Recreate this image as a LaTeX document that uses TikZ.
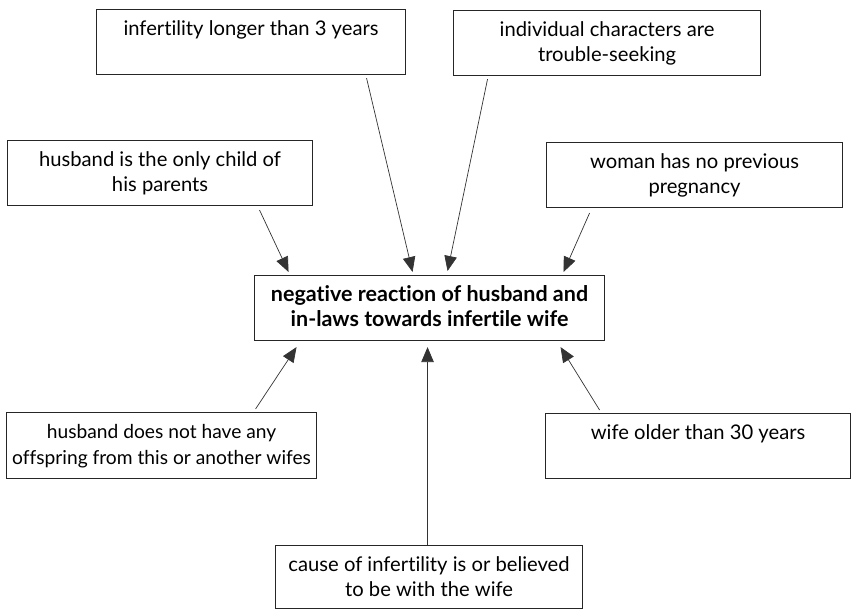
\documentclass[tikz,border=0pt]{standalone}
\usepackage{fontspec}
\setmainfont{Lato}[Ligatures=NoCommon]
\usetikzlibrary{arrows.meta}
\newcommand\bxt[3]{\parbox[c][#2pt][t]{#1pt}{\centering\rule{0pt}{26pt}#3\par}}
\tikzset{
  box/.style={draw=black!85, line width=1.1pt, inner sep=0pt, anchor=north west, font=\fontsize{20.2}{25}\selectfont},
  arr/.style={draw=black!80, line width=0.7pt, -{Triangle[length=15pt,width=12.5pt]}}
}
\begin{document}
\begin{tikzpicture}[x=1pt,y=-1pt]
\useasboundingbox (0,0) rectangle (854,609);
\node[box] (b1) at (96,9) {\bxt{309}{65}{infertility longer than 3 years}};
\node[box] (b2) at (453,10) {\bxt{307}{65}{individual characters are\\trouble-seeking}};
\node[box] (b3) at (7,140) {\bxt{305}{65}{husband is the only child of\\his parents}};
\node[box] (b4) at (546,142) {\bxt{296}{65}{woman has no previous\\pregnancy}};
\node[box] (c) at (254,275) {\bxt{350}{65}{\fontsize{21.5}{25}\selectfont\bfseries negative reaction of husband and\\in-laws towards infertile wife}};
\node[box, font=\fontsize{19.2}{26}\selectfont] (b5) at (6,412) {\bxt{310}{66}{husband does not have any\\offspring from this or another wifes}};
\node[box] (b6) at (545,413) {\bxt{305}{65}{wife older than 30 years}};
\node[box] (b7) at (275,545) {\bxt{307}{63}{cause of infertility is or believed\\to be with the wife}};
\draw[arr] ([xshift=115.5pt,yshift=-3pt]b1.south) -- ([xshift=-17pt,yshift=3pt]c.north);
\draw[arr] ([xshift=-119.5pt,yshift=-3pt]b2.south) -- ([xshift=18pt,yshift=4pt]c.north);
\draw[arr] ([xshift=99.5pt,yshift=-4pt]b3.south) -- ([xshift=-141pt,yshift=3pt]c.north);
\draw[arr] ([xshift=-105pt,yshift=-5pt]b4.south) -- ([xshift=134pt,yshift=3pt]c.north);
\draw[arr] ([xshift=94pt,yshift=3pt]b5.north) -- ([xshift=-133pt,yshift=-6pt]c.south);
\draw[arr] ([xshift=-98.5pt,yshift=3pt]b6.north) -- ([xshift=131pt,yshift=-6pt]c.south);
\draw[arr] ([xshift=-1.5pt]b7.north) -- ([xshift=-2pt,yshift=-6pt]c.south);
\end{tikzpicture}
\end{document}
